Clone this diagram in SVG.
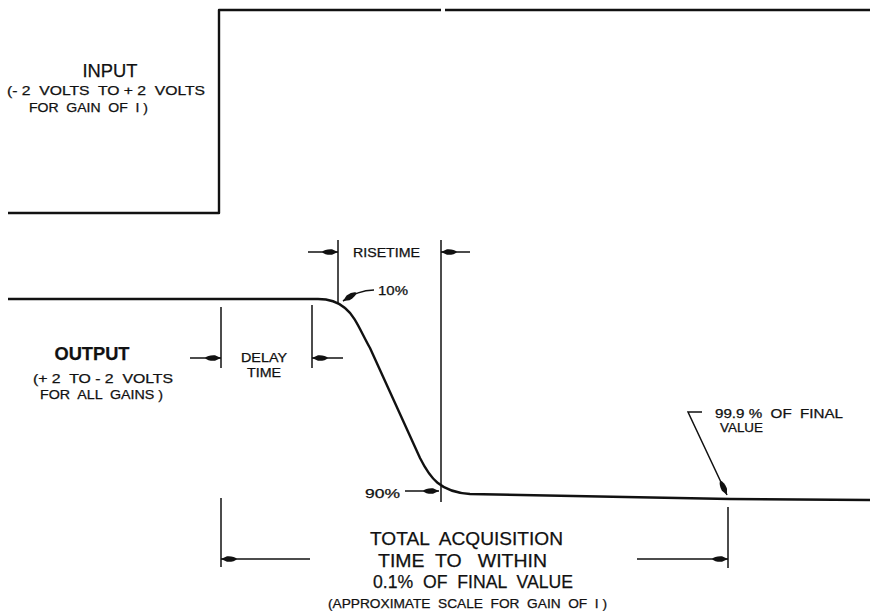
<svg xmlns="http://www.w3.org/2000/svg" width="870" height="611" viewBox="0 0 870 611">
<style>
.wave{fill:none;stroke:#111;stroke-width:2.4;stroke-linejoin:round}
.dim{fill:none;stroke:#111;stroke-width:1.5}
.arr{fill:none;stroke:#111;stroke-width:1.5;marker-end:url(#ah)}
text{font-family:"Liberation Sans",Arial,sans-serif;fill:#111;stroke:#111;stroke-width:0.25;white-space:pre}
.t11{font-size:12px}
.t12{font-size:12.5px}
.t16{font-size:19px}
.big{font-size:18.5px}
</style>
<defs>
<marker id="ah" markerUnits="userSpaceOnUse" markerWidth="18" markerHeight="10" refX="16" refY="5" orient="auto">
<path d="M0,5 Q3,1.8 10,2.2 L16,5 L10,7.8 Q3,8.2 0,5 z" fill="#111"/>
</marker>
</defs>
<rect width="870" height="611" fill="#fff"/>
<g id="input-wave">
<path class="wave" d="M8,213 L219,213 L219,10 L441,10 M445,10 L870,10"/>
</g>
<g id="input-label">
<text class="t16" x="110" y="77" text-anchor="middle" textLength="55" lengthAdjust="spacingAndGlyphs">INPUT</text>
<text class="t11" x="7" y="95" textLength="198" lengthAdjust="spacingAndGlyphs">(- 2  VOLTS  TO + 2  VOLTS</text>
<text class="t11" x="29" y="112" textLength="119" lengthAdjust="spacingAndGlyphs">FOR  GAIN  OF  I )</text>
</g>
<g id="output-wave">
<path class="wave" d="M8,299 L318,299 C330,299 338,302 345,308 C355,316 360,330 370,348 L420,458 C430,478 440,492 470,494 L730,499 L870,500"/>
</g>
<g id="output-label">
<text class="t16" x="92" y="360" text-anchor="middle" textLength="75" lengthAdjust="spacingAndGlyphs" font-weight="bold">OUTPUT</text>
<text class="t11" x="33" y="383" textLength="140" lengthAdjust="spacingAndGlyphs">(+ 2  TO - 2  VOLTS</text>
<text class="t11" x="40" y="399" textLength="123" lengthAdjust="spacingAndGlyphs">FOR  ALL  GAINS )</text>
</g>
<g id="connectors">
<line class="dim" x1="338" y1="240" x2="338" y2="303"/>
<line class="dim" x1="441" y1="240" x2="441" y2="502"/>
<line class="arr" x1="308" y1="252" x2="338" y2="252"/>
<line class="arr" x1="470" y1="252" x2="441" y2="252"/>
<path class="arr" d="M374,290 C362,290 354,294 343,301"/>
<line class="dim" x1="221" y1="307" x2="221" y2="368"/>
<line class="dim" x1="312" y1="305" x2="312" y2="368"/>
<line class="arr" x1="190" y1="358" x2="221" y2="358"/>
<line class="arr" x1="343" y1="358" x2="312" y2="358"/>
<line class="arr" x1="405" y1="491" x2="439" y2="491"/>
<path class="arr" d="M702,412 L688,412 L727,495"/>
<line class="dim" x1="221" y1="498" x2="221" y2="567"/>
<line class="dim" x1="728" y1="507" x2="728" y2="568"/>
<line class="arr" x1="310" y1="559" x2="221" y2="559"/>
<line class="arr" x1="637" y1="559" x2="728" y2="559"/>
</g>
<g id="labels">
<text class="t11" x="353" y="257" textLength="67" lengthAdjust="spacingAndGlyphs">RISETIME</text>
<text class="t11" x="378" y="295" textLength="30" lengthAdjust="spacingAndGlyphs">10%</text>
<text class="t11" x="264" y="362" text-anchor="middle" textLength="46" lengthAdjust="spacingAndGlyphs">DELAY</text>
<text class="t11" x="264" y="377" text-anchor="middle" textLength="34" lengthAdjust="spacingAndGlyphs">TIME</text>
<text class="t12" x="365" y="498" textLength="35" lengthAdjust="spacingAndGlyphs">90%</text>
<text class="t11" x="715" y="418" textLength="128" lengthAdjust="spacingAndGlyphs">99.9 %  OF  FINAL</text>
<text class="t11" x="720" y="432" textLength="43" lengthAdjust="spacingAndGlyphs">VALUE</text>
<text class="big" x="370" y="545" textLength="193" lengthAdjust="spacingAndGlyphs">TOTAL  ACQUISITION</text>
<text class="big" x="378" y="567" textLength="169" lengthAdjust="spacingAndGlyphs">TIME  TO   WITHIN</text>
<text class="big" x="373" y="588" textLength="200" lengthAdjust="spacingAndGlyphs">0.1%  OF  FINAL  VALUE</text>
<text class="t12" x="328" y="608" textLength="279" lengthAdjust="spacingAndGlyphs">(APPROXIMATE  SCALE  FOR  GAIN  OF  I )</text>
</g>
</svg>
